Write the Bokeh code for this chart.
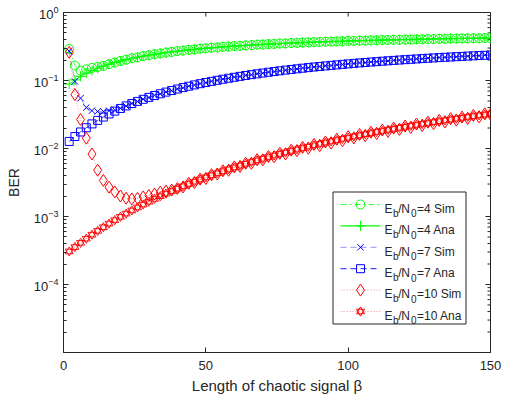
import math

from bokeh.plotting import figure
from bokeh.models import Range1d, LinearScale, FixedTicker
from bokeh.core.properties import value
from bokeh.embed import file_html
from bokeh.resources import INLINE

# Length of the chaotic signal (beta), evaluated every 2 samples
beta = list(range(2, 151, 2))

# Eb/N0 = 4
ber_sim_4 = [0.292, 0.166, 0.140, 0.146, 0.153, 0.158, 0.164, 0.174, 0.183, 0.194,
             0.202, 0.213, 0.219, 0.229, 0.235, 0.244, 0.250, 0.258, 0.263, 0.271,
             0.275, 0.283, 0.286, 0.294, 0.297, 0.303, 0.306, 0.313, 0.315, 0.321,
             0.323, 0.329, 0.331, 0.337, 0.338, 0.343, 0.345, 0.350, 0.351, 0.356,
             0.357, 0.362, 0.363, 0.367, 0.368, 0.372, 0.373, 0.377, 0.377, 0.382,
             0.382, 0.386, 0.386, 0.390, 0.390, 0.394, 0.394, 0.397, 0.397, 0.401,
             0.401, 0.404, 0.404, 0.407, 0.407, 0.411, 0.410, 0.413, 0.413, 0.416,
             0.416, 0.419, 0.418, 0.422, 0.421]
ber_ana_4 = [0.0885, 0.102, 0.115, 0.128, 0.140, 0.152, 0.163, 0.173, 0.184, 0.193,
             0.203, 0.212, 0.220, 0.228, 0.236, 0.243, 0.251, 0.257, 0.264, 0.270,
             0.276, 0.282, 0.287, 0.293, 0.298, 0.302, 0.307, 0.312, 0.316, 0.320,
             0.324, 0.328, 0.332, 0.336, 0.339, 0.342, 0.346, 0.349, 0.352, 0.355,
             0.358, 0.361, 0.364, 0.366, 0.369, 0.371, 0.374, 0.376, 0.378, 0.381,
             0.383, 0.385, 0.387, 0.389, 0.391, 0.393, 0.395, 0.396, 0.398, 0.400,
             0.402, 0.403, 0.405, 0.406, 0.408, 0.410, 0.411, 0.412, 0.414, 0.415,
             0.417, 0.418, 0.419, 0.421, 0.422]

# Eb/N0 = 7
ber_sim_7 = [0.270, 0.097, 0.055, 0.040, 0.036, 0.035, 0.035, 0.036, 0.037, 0.039,
             0.0420, 0.0461, 0.0490, 0.0532, 0.0561, 0.0606, 0.0634, 0.0679, 0.0708, 0.0753,
             0.0782, 0.0829, 0.0856, 0.0903, 0.0929, 0.0976, 0.1002, 0.1049, 0.1073, 0.1121,
             0.1144, 0.1191, 0.1213, 0.1260, 0.1282, 0.1329, 0.1349, 0.1394, 0.1414, 0.1460,
             0.1478, 0.1524, 0.1541, 0.1586, 0.1602, 0.1646, 0.1661, 0.1706, 0.1719, 0.1763,
             0.1777, 0.1821, 0.1832, 0.1876, 0.1886, 0.1931, 0.1939, 0.1982, 0.1991, 0.2034,
             0.2041, 0.2083, 0.2090, 0.2133, 0.2138, 0.2180, 0.2184, 0.2226, 0.2230, 0.2271,
             0.2274, 0.2316, 0.2318, 0.2359, 0.2361]
ber_ana_7 = [0.0127, 0.0150, 0.0175, 0.0202, 0.0230, 0.0259, 0.0290, 0.0322, 0.0355, 0.0388,
             0.0423, 0.0458, 0.0493, 0.0529, 0.0565, 0.0602, 0.0638, 0.0675, 0.0712, 0.0749,
             0.0786, 0.0824, 0.0861, 0.0898, 0.0934, 0.0971, 0.1007, 0.1043, 0.1079, 0.1115,
             0.1150, 0.1185, 0.1219, 0.1254, 0.1288, 0.1322, 0.1355, 0.1388, 0.1421, 0.1453,
             0.1485, 0.1517, 0.1548, 0.1579, 0.1609, 0.1639, 0.1669, 0.1698, 0.1727, 0.1756,
             0.1785, 0.1813, 0.1840, 0.1868, 0.1895, 0.1922, 0.1948, 0.1974, 0.2000, 0.2025,
             0.2050, 0.2075, 0.2099, 0.2124, 0.2148, 0.2171, 0.2194, 0.2217, 0.2240, 0.2262,
             0.2285, 0.2307, 0.2328, 0.2350, 0.2371]

# Eb/N0 = 10
ber_sim_10 = [0.26, 0.062, 0.0267, 0.0142, 0.0083, 0.0048, 0.0034, 0.0027, 0.0023, 0.0020,
              1.86e-3, 1.81e-3, 1.85e-3, 1.94e-3, 2.04e-3, 2.14e-3, 2.28e-3, 2.36e-3, 2.45e-3, 2.58e-3,
              2.72e-3, 3.08e-3, 3.16e-3, 3.55e-3, 3.62e-3, 4.12e-3, 4.21e-3, 4.70e-3, 4.78e-3, 5.36e-3,
              5.45e-3, 6.08e-3, 6.05e-3, 6.85e-3, 6.80e-3, 7.62e-3, 7.55e-3, 8.52e-3, 8.30e-3, 9.45e-3,
              9.30e-3, 1.04e-2, 1.01e-2, 1.15e-2, 1.10e-2, 1.25e-2, 1.20e-2, 1.37e-2, 1.30e-2, 1.49e-2,
              1.43e-2, 1.61e-2, 1.54e-2, 1.74e-2, 1.66e-2, 1.87e-2, 1.78e-2, 2.00e-2, 1.91e-2, 2.14e-2,
              2.04e-2, 2.29e-2, 2.18e-2, 2.44e-2, 2.32e-2, 2.59e-2, 2.46e-2, 2.75e-2, 2.61e-2, 2.90e-2,
              2.77e-2, 3.07e-2, 2.92e-2, 3.24e-2, 3.18e-2]
ber_ana_10 = [3.06e-4, 3.55e-4, 4.10e-4, 4.72e-4, 5.40e-4, 6.14e-4, 6.96e-4, 7.86e-4, 8.83e-4, 9.89e-4,
              1.103e-3, 1.227e-3, 1.359e-3, 1.501e-3, 1.652e-3, 1.815e-3, 1.987e-3, 2.170e-3, 2.363e-3, 2.568e-3,
              2.784e-3, 3.011e-3, 3.251e-3, 3.502e-3, 3.764e-3, 4.041e-3, 4.327e-3, 4.627e-3, 4.940e-3, 5.265e-3,
              5.602e-3, 5.951e-3, 6.314e-3, 6.689e-3, 7.076e-3, 7.479e-3, 7.891e-3, 8.318e-3, 8.758e-3, 9.211e-3,
              9.676e-3, 1.0153e-2, 1.0644e-2, 1.1146e-2, 1.1660e-2, 1.2187e-2, 1.2729e-2, 1.3280e-2, 1.3845e-2, 1.4421e-2,
              1.5007e-2, 1.5606e-2, 1.6218e-2, 1.6841e-2, 1.7478e-2, 1.8120e-2, 1.8780e-2, 1.9448e-2, 2.0126e-2, 2.0814e-2,
              2.1516e-2, 2.2226e-2, 2.2948e-2, 2.3678e-2, 2.4420e-2, 2.5177e-2, 2.5935e-2, 2.6711e-2, 2.7490e-2, 2.8281e-2,
              2.9079e-2, 2.9887e-2, 3.0703e-2, 3.1527e-2, 3.2359e-2]

x_ticks = [0, 50, 100, 150]
y_ticks = [1e-4, 1e-3, 1e-2, 1e-1, 1.0]

FONT = "Liberation Sans"
INK = "#262626"
GREEN = "#00ff00"
BLUE = "#0000ff"
RED = "#ff0000"

FW, FH = 427, 340
LEFT, TOP = 63, 12
X0, X1 = 0, 150
Y0, Y1 = 1e-5, 1.0

p = figure(frame_width=FW, frame_height=FH, y_axis_type="log",
           x_range=Range1d(X0, X1), y_range=Range1d(Y0, Y1),
           output_backend="svg", toolbar_location=None,
           min_border_left=LEFT, min_border_right=505 - LEFT - FW,
           min_border_top=TOP, min_border_bottom=396 - TOP - FH)
p.grid.visible = False
p.outline_line_color = INK
p.outline_line_width = 1
p.background_fill_color = "white"
p.border_fill_color = "white"

minor = [k * 10.0 ** e for e in range(-5, 0) for k in range(2, 10)]
xt = FixedTicker(ticks=x_ticks, minor_ticks=[])
yt = FixedTicker(ticks=y_ticks, minor_ticks=minor)


def style_axis(ax):
    ax.axis_line_color = INK
    ax.major_tick_line_color = INK
    ax.minor_tick_line_color = INK
    ax.major_tick_in = 5
    ax.major_tick_out = 0
    ax.minor_tick_in = 3
    ax.minor_tick_out = 0
    ax.major_label_text_font = FONT
    ax.major_label_text_color = INK
    ax.major_label_text_font_size = "13px"
    ax.axis_label_text_font = FONT
    ax.axis_label_text_font_style = "normal"
    ax.axis_label_text_color = INK


xa = p.xaxis[0]
xa.ticker = xt
style_axis(xa)
xa.axis_label = "Length of chaotic signal β"
xa.axis_label_text_font_size = "15px"
xa.major_label_standoff = 8
xa.axis_label_standoff = 4

ya = p.yaxis[0]
ya.ticker = yt
style_axis(ya)
ya.axis_label = "BER"
ya.axis_label_text_font_size = "14px"
ya.major_label_standoff = 5
ya.axis_label_standoff = 9

# Inward ticks on the top and right edges of the box
p.ray(x=x_ticks, y=[Y1] * len(x_ticks), length=4, angle=-math.pi / 2,
      length_units="screen", line_color=INK, line_width=1)
p.ray(x=[X1] * len(y_ticks), y=y_ticks, length=5, angle=math.pi,
      length_units="screen", line_color=INK, line_width=1)
p.ray(x=[X1] * len(minor), y=minor, length=3, angle=math.pi,
      length_units="screen", line_color=INK, line_width=1)

# Curves
p.line(beta, ber_sim_4, line_color=GREEN, line_dash="6 3 2 3", line_width=0.7)
p.scatter(beta, ber_sim_4, marker="circle", size=9, fill_color=None, line_color=GREEN, line_width=1)
p.line(beta, ber_ana_4, line_color=GREEN, line_width=1)
p.scatter(beta, ber_ana_4, marker="cross", size=10, line_color=GREEN, line_width=1)

p.line(beta, ber_sim_7, line_color=BLUE, line_dash="6 4", line_width=0.6, line_alpha=0.6)
p.scatter(beta, ber_sim_7, marker="x", size=9, line_color=BLUE, line_width=1)
p.line(beta, ber_ana_7, line_color=BLUE, line_dash="6 4", line_width=0.8)
p.scatter(beta, ber_ana_7, marker="square", size=8, fill_color=None, line_color=BLUE, line_width=1)

p.line(beta, ber_sim_10, line_color=RED, line_dash="1 2", line_width=0.7, line_alpha=0.6)
p.scatter(beta, ber_sim_10, marker="diamond", size=12, fill_color=None, line_color=RED, line_width=1)
p.line(beta, ber_ana_10, line_color=RED, line_dash="1 2", line_width=0.7, line_alpha=0.6)
p.scatter(beta, ber_ana_10, marker="triangle", size=8, fill_color=None, line_color=RED, line_width=0.9)
p.scatter(beta, ber_ana_10, marker="inverted_triangle", size=8, fill_color=None, line_color=RED, line_width=0.9)

# Legend drawn in frame pixel coordinates (origin at the frame's top-left corner)
p.extra_x_ranges = {"px": Range1d(0, FW)}
p.extra_y_ranges = {"px": Range1d(FH, 0)}
p.extra_x_scales = {"px": LinearScale()}
p.extra_y_scales = {"px": LinearScale()}
PX = dict(x_range_name="px", y_range_name="px")

p.quad(left=332.5 - LEFT, right=465.5 - LEFT, top=191.5 - TOP, bottom=323.5 - TOP,
       fill_color="white", line_color=INK, line_width=1, **PX)

entries = [
    (GREEN, "6 3 2 3", 0.8, 1.0, ["circle"], 9, "4", "Sim"),
    (GREEN, "solid", 1.2, 1.0, ["cross"], 10, "4", "Ana"),
    (BLUE, "6 4", 0.8, 0.55, ["x"], 9, "7", "Sim"),
    (BLUE, "6 4", 0.9, 1.0, ["square"], 8, "7", "Ana"),
    (RED, "1 2", 0.8, 0.6, ["diamond"], 12, "10", "Sim"),
    (RED, "1 2", 0.8, 0.6, ["triangle", "inverted_triangle"], 8, "10", "Ana"),
]
row0, row_gap = 204.0, 21.4
for i, (col, dash, lw, la, markers, msize, snr, kind) in enumerate(entries):
    yc = row0 + i * row_gap - TOP
    p.line([340 - LEFT, 380 - LEFT], [yc, yc], line_color=col, line_dash=dash,
           line_width=lw, line_alpha=la, **PX)
    for m in markers:
        p.scatter([360 - LEFT], [yc], marker=m, size=msize, fill_color=None,
                  line_color=col, line_width=1, **PX)
    base = yc + 4.3
    p.text(x=[384 - LEFT, 397.7 - LEFT, 400.7 - LEFT, 416.5 - LEFT],
           y=[base] * 4, text=["E", "/", "N", "=" + snr + " " + kind],
           text_font=value(FONT), text_font_size="12px", text_color=INK,
           text_align="left", text_baseline="alphabetic", **PX)
    p.text(x=[392.6 - LEFT, 410.6 - LEFT], y=[base + 4.5] * 2, text=["b", "0"],
           text_font=value(FONT), text_font_size="10px", text_color=INK,
           text_align="left", text_baseline="alphabetic", **PX)

open("out.html", "w").write(file_html(p, INLINE))
